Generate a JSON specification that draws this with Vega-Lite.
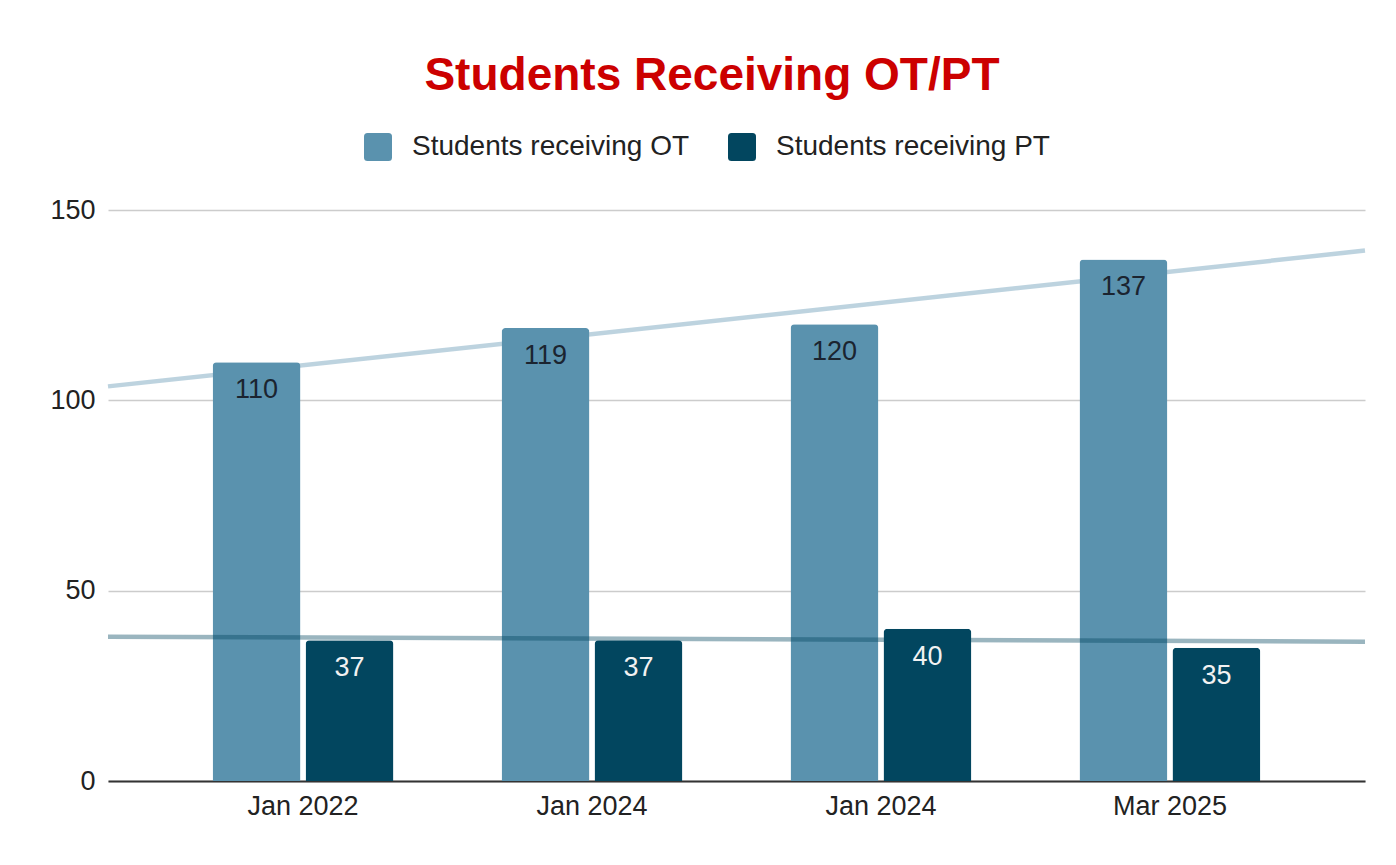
{
  "$schema": "https://vega.github.io/schema/vega-lite/v6.json",
  "width": 1257,
  "height": 571,
  "autosize": {"type": "none"},
  "padding": {"left": 108, "top": 210, "right": 31, "bottom": 84},
  "background": "#ffffff",
  "title": {
    "text": "Students Receiving OT/PT",
    "font": "Liberation Sans",
    "fontSize": 46,
    "fontWeight": "bold",
    "color": "#cc0000",
    "anchor": "middle",
    "frame": "bounds",
    "offset": 33
  },
  "data": {
    "values": [
      {"period": "Jan 2022", "idx": 0, "series": "Students receiving OT", "value": 110},
      {"period": "Jan 2024", "idx": 1, "series": "Students receiving OT", "value": 119},
      {"period": "Jan 2024\u200b", "idx": 2, "series": "Students receiving OT", "value": 120},
      {"period": "Mar 2025", "idx": 3, "series": "Students receiving OT", "value": 137},
      {"period": "Jan 2022", "idx": 0, "series": "Students receiving PT", "value": 37},
      {"period": "Jan 2024", "idx": 1, "series": "Students receiving PT", "value": 37},
      {"period": "Jan 2024\u200b", "idx": 2, "series": "Students receiving PT", "value": 40},
      {"period": "Mar 2025", "idx": 3, "series": "Students receiving PT", "value": 35}
    ]
  },
  "layer": [
    {
      "transform": [
        {"filter": "datum.series === 'Students receiving OT'"},
        {"regression": "value", "on": "idx", "extent": [-0.675, 3.675]}
      ],
      "mark": {"type": "line", "color": "#5a92ae", "opacity": 0.4, "strokeWidth": 4.5},
      "encoding": {
        "x": {"field": "idx", "type": "quantitative", "axis": null, "scale": {"domain": [-0.675, 3.675], "nice": false, "zero": false}},
        "y": {"field": "value", "type": "quantitative"}
      }
    },
    {
      "transform": [{"filter": "datum.series === 'Students receiving OT'"}],
      "mark": {"type": "bar", "cornerRadiusTopLeft": 4, "cornerRadiusTopRight": 4},
      "encoding": {
        "x": {
          "field": "period", "type": "nominal", "sort": {"field": "idx"}, "title": null,
          "scale": {"paddingInner": 0.374, "paddingOuter": 0.362},
          "axis": {"labelAngle": 0, "ticks": false, "domainColor": "#333333", "domainWidth": 2, "labelPadding": 12, "labelFontSize": 27, "labelColor": "#222222", "labelFont": "Liberation Sans"}
        },
        "xOffset": {"field": "series", "type": "nominal", "scale": {"domain": ["Students receiving OT", "Students receiving PT"], "paddingInner": 0.054}},
        "y": {
          "field": "value", "type": "quantitative", "title": null,
          "scale": {"domain": [0, 150], "nice": false},
          "axis": {"values": [0, 50, 100, 150], "ticks": false, "domain": false, "gridColor": "#cccccc", "gridWidth": 1.5, "labelPadding": 13, "labelFontSize": 27, "labelColor": "#222222", "labelFont": "Liberation Sans"}
        },
        "color": {
          "field": "series", "type": "nominal",
          "scale": {"domain": ["Students receiving OT", "Students receiving PT"], "range": ["#5a92ae", "#02465f"]},
          "legend": {
            "title": null, "orient": "none", "direction": "horizontal",
            "legendX": 256, "legendY": -77,
            "symbolType": "M-1,-0.75 Q-1,-1 -0.75,-1 L0.75,-1 Q1,-1 1,-0.75 L1,0.75 Q1,1 0.75,1 L-0.75,1 Q-1,1 -1,0.75 Z",
            "symbolSize": 784, "symbolStrokeWidth": 0, "symbolOpacity": 1,
            "labelFontSize": 28, "labelFont": "Liberation Sans", "labelColor": "#222222", "labelLimit": 0,
            "labelOffset": 20, "columnPadding": 38, "padding": 0
          }
        }
      }
    },
    {
      "transform": [{"filter": "datum.series === 'Students receiving OT'"}],
      "mark": {"type": "text", "baseline": "top", "dy": 15, "fontSize": 27, "font": "Liberation Sans", "color": "#1b2430"},
      "encoding": {
        "x": {"field": "period", "type": "nominal", "sort": {"field": "idx"}, "axis": null, "scale": {"paddingInner": 0.374, "paddingOuter": 0.362}},
        "xOffset": {"field": "series", "type": "nominal", "scale": {"domain": ["Students receiving OT", "Students receiving PT"], "paddingInner": 0.054}},
        "y": {"field": "value", "type": "quantitative"},
        "text": {"field": "value", "type": "quantitative"}
      }
    },
    {
      "transform": [
        {"filter": "datum.series === 'Students receiving PT'"},
        {"regression": "value", "on": "idx", "extent": [-0.675, 3.675]}
      ],
      "mark": {"type": "line", "color": "#02465f", "opacity": 0.4, "strokeWidth": 4.5},
      "encoding": {
        "x": {"field": "idx", "type": "quantitative", "axis": null, "scale": {"domain": [-0.675, 3.675], "nice": false, "zero": false}},
        "y": {"field": "value", "type": "quantitative"}
      }
    },
    {
      "transform": [{"filter": "datum.series === 'Students receiving PT'"}],
      "mark": {"type": "bar", "cornerRadiusTopLeft": 4, "cornerRadiusTopRight": 4},
      "encoding": {
        "x": {"field": "period", "type": "nominal", "sort": {"field": "idx"}, "axis": null, "scale": {"paddingInner": 0.374, "paddingOuter": 0.362}},
        "xOffset": {"field": "series", "type": "nominal", "scale": {"domain": ["Students receiving OT", "Students receiving PT"], "paddingInner": 0.054}},
        "y": {"field": "value", "type": "quantitative"},
        "color": {"field": "series", "type": "nominal"}
      }
    },
    {
      "transform": [{"filter": "datum.series === 'Students receiving PT'"}],
      "mark": {"type": "text", "baseline": "top", "dy": 15, "fontSize": 27, "font": "Liberation Sans", "color": "#f2f2f2"},
      "encoding": {
        "x": {"field": "period", "type": "nominal", "sort": {"field": "idx"}, "axis": null, "scale": {"paddingInner": 0.374, "paddingOuter": 0.362}},
        "xOffset": {"field": "series", "type": "nominal", "scale": {"domain": ["Students receiving OT", "Students receiving PT"], "paddingInner": 0.054}},
        "y": {"field": "value", "type": "quantitative"},
        "text": {"field": "value", "type": "quantitative"}
      }
    }
  ],
  "resolve": {"scale": {"x": "independent"}},
  "config": {
    "view": {"stroke": null},
    "axis": {"grid": true},
    "axisX": {"grid": false}
  }
}
